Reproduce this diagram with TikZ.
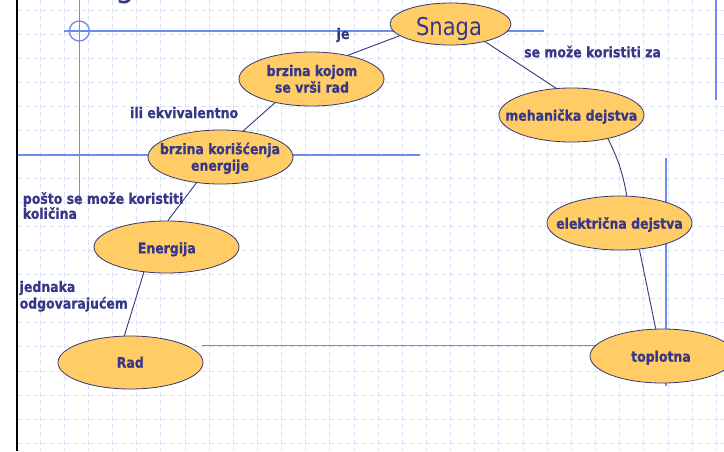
\documentclass[tikz,border=0pt]{standalone}
\usepackage{fontspec}
\newfontfamily\tah[FakeStretch=0.86, BoldFont={DejaVu Sans Bold}, BoldFeatures={FakeStretch=0.86, FakeBold=0.6}]{DejaVu Sans}
\usetikzlibrary{shapes.geometric}
\definecolor{txtc}{RGB}{55,55,135}
\definecolor{fillc}{RGB}{255,204,102}
\definecolor{edgec}{RGB}{55,55,120}
\definecolor{gridc}{RGB}{218,226,250}
\definecolor{slidec}{RGB}{105,140,238}
\begin{document}
\begin{tikzpicture}[x=1pt,y=-1pt,
  ell/.style={ellipse, draw=edgec, line width=0.8pt, fill=fillc, minimum width=145pt, minimum height=54pt, inner sep=0pt},
  lbl/.style={font=\tah\bfseries\fontsize{14.5}{16.6}\selectfont, text=txtc, inner sep=0pt},
  big/.style={font=\tah\fontsize{24.5}{28}\selectfont, text=txtc, inner sep=0pt},
  conn/.style={draw=edgec, line width=0.9pt},
  gridln/.style={gridc, line width=0.8pt, dash pattern=on 5pt off 3pt},
  slide/.style={slidec, line width=1.3pt}]
\useasboundingbox (0,0) rectangle (724,451);
\clip (0,0) rectangle (724,451);
\fill[white] (0,0) rectangle (724,451);
% grid
\foreach \k in {0,...,28} \draw[gridln] ({40+24.15*\k},0) -- ({40+24.15*\k},451);
\foreach \k in {0,...,18} \draw[gridln] (17,{10+24.06*\k}) -- (724,{10+24.06*\k});
% slide layout lines
\draw[slide] (64,31) -- (544,31);
\draw[slide] (79.3,0) -- (79.3,205);
\draw[slide] (79.3,31) circle[radius=10];
\draw[slide] (17,155) -- (420,155);
\draw[slide] (716,0) -- (716,100);
\draw[slide] (666,158) -- (666,386);
\draw[slide] (202,345.7) -- (666,345.7);
\draw[line width=2.8pt] (17,0) -- (17,451);
% title remnant
\node[font=\tah\fontsize{36}{40}\selectfont, text=txtc, anchor=base, inner sep=0pt] (titleg) at (125,-3.5) {g};
% ellipses
\node[ell, minimum width=121pt, minimum height=42pt] (snaga) at (450.5,24) {};
\node[ell] (kojom) at (311.5,79) {};
\node[ell] (kor) at (220.5,157) {};
\node[ell, minimum height=52pt] (energ) at (166.5,247) {};
\node[ell, minimum height=53pt] (rad) at (130.5,362.5) {};
\node[ell] (meh) at (571.5,115) {};
\node[ell] (ele) at (619.5,223) {};
\node[ell] (topl) at (662.5,356) {};
% connectors
\draw[conn] (snaga.193) -- (kojom.33);
\draw[conn] (snaga.-27) -- (meh.120);
\draw[conn] (kojom.-147) -- (kor.49);
\draw[conn] (kor.-133) -- (energ.87);
\draw[conn] (energ.-132) -- (rad.103);
\draw[conn] (meh.-33) to[bend left=8] (ele.75);
\draw[conn] (ele.-53) -- (topl.104);
% texts in ellipses
\node[big, anchor=base] (snagat) at (449,35) {Snaga};
\node[lbl, align=center] (kojomt) at (312,78.9) {brzina kojom\\se vrši rad};
\node[lbl, align=center] (kort) at (220,158.2) {brzina korišćenja\\energije};
\node[lbl, anchor=base] (energt) at (166.8,253.3) {Energija};
\node[lbl, anchor=base] (radt) at (130.3,367.7) {Rad};
\node[lbl, anchor=base] (meht) at (571.3,120.7) {mehanička dejstva};
\node[lbl, anchor=base] (elet) at (619.5,228.7) {električna dejstva};
\node[lbl, anchor=base] (toplt) at (661,361.7) {toplotna};
% link labels
\node[lbl, anchor=base west] (je) at (336.5,39) {je};
\node[lbl, anchor=base west] (sekor) at (524,57.3) {se može koristiti za};
\node[lbl, anchor=base west] (ili) at (130,118) {ili ekvivalentno};
\node[lbl, align=left, anchor=north west, font=\tah\bfseries\fontsize{14.5}{15}\selectfont] (posto) at (22.7,192) {pošto se može koristiti\\količina};
\node[lbl, align=left, anchor=north west] (jedn) at (19.5,280.7) {jednaka\\odgovarajućem};
\end{tikzpicture}
\end{document}
